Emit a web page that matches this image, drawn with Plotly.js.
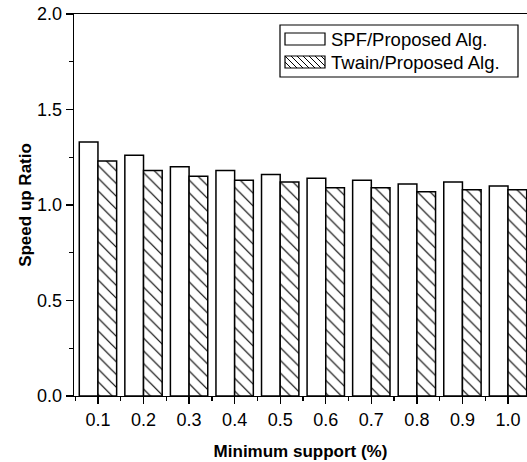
<!DOCTYPE html>
<html>
<head>
<meta charset="utf-8">
<script src="https://cdn.plot.ly/plotly-3.0.1.min.js"></script>
<style>html,body{margin:0;padding:0;background:#fff;}#chart{width:527px;height:462px;}</style>
</head>
<body>
<div id="chart"></div>
<script>
const supports = [0.1, 0.2, 0.3, 0.4, 0.5, 0.6, 0.7, 0.8, 0.9, 1.0];
const spfRatio = [1.33, 1.26, 1.20, 1.18, 1.16, 1.14, 1.13, 1.11, 1.12, 1.10];
const twainRatio = [1.23, 1.18, 1.15, 1.13, 1.12, 1.09, 1.09, 1.07, 1.08, 1.08];
const seriesNames = ["SPF/Proposed Alg.", "Twain/Proposed Alg."];

const W = 527, H = 462;
const M = {l: 74, r: 0, t: 14, b: 66};
const PW = W - M.l - M.r, PH = H - M.t - M.b;
const px = x => (x - M.l) / PW;
const py = y => (H - M.b - y) / PH;

const font = "Liberation Sans, Arial, sans-serif";

const traces = [
  {type: 'bar', x: supports, y: spfRatio, name: seriesNames[0],
   marker: {color: 'white', line: {color: 'black', width: 1.5}}},
  {type: 'bar', x: supports, y: twainRatio, name: seriesNames[1],
   marker: {color: 'white', line: {color: 'black', width: 1.5},
            pattern: {shape: '\\', size: 9, solidity: 0.13, fgcolor: 'black', bgcolor: 'white'}}}
];

// legend drawn as decoration
const shapes = [];
const LB = {x0: 280, x1: 518, y0: 25, y1: 77};
shapes.push({type: 'rect', xref: 'paper', yref: 'paper', x0: px(LB.x0), x1: px(LB.x1), y0: py(LB.y1), y1: py(LB.y0),
  line: {color: 'black', width: 1.2}, fillcolor: 'white', layer: 'above'});
const sw1 = {x0: 285, x1: 325, y0: 33, y1: 45};
const sw2 = {x0: 285, x1: 325, y0: 56, y1: 68};
[sw1, sw2].forEach(s => shapes.push({type: 'rect', xref: 'paper', yref: 'paper', x0: px(s.x0), x1: px(s.x1), y0: py(s.y1), y1: py(s.y0),
  line: {color: 'black', width: 1.2}, fillcolor: 'white', layer: 'above'}));
// hatch lines in swatch 2 ("\" direction)
const hh = sw2.y1 - sw2.y0;
for (let xs = sw2.x0 - hh; xs < sw2.x1; xs += 6) {
  let xa = xs, ya = sw2.y0, xb = xs + hh, yb = sw2.y1;
  if (xa < sw2.x0) { ya = sw2.y0 + (sw2.x0 - xa); xa = sw2.x0; }
  if (xb > sw2.x1) { yb = sw2.y1 - (xb - sw2.x1); xb = sw2.x1; }
  if (xb - xa < 0.5) continue;
  shapes.push({type: 'line', xref: 'paper', yref: 'paper', x0: px(xa), x1: px(xb), y0: py(ya), y1: py(yb),
    line: {color: 'black', width: 1}, layer: 'above'});
}

const annotations = [
  {xref: 'paper', yref: 'paper', x: px(329), y: py(39), xanchor: 'left', yanchor: 'middle', showarrow: false,
   text: seriesNames[0], font: {family: font, size: 18.5, color: 'black'}},
  {xref: 'paper', yref: 'paper', x: px(329), y: py(62), xanchor: 'left', yanchor: 'middle', showarrow: false,
   text: seriesNames[1], font: {family: font, size: 18.5, color: 'black'}}
];

const layout = {
  width: W, height: H,
  margin: M,
  paper_bgcolor: 'white', plot_bgcolor: 'white',
  showlegend: false,
  barmode: 'group', bargap: 0.18, bargroupgap: 0,
  font: {family: font, size: 18, color: 'black'},
  xaxis: {
    range: [0.0474, 1.0417],
    tickmode: 'linear', tick0: 0.1, dtick: 0.1, tickformat: '.1f',
    ticks: 'outside', ticklen: 7, tickwidth: 1.3, tickcolor: 'black',
    minor: {dtick: 0.05, tick0: 0.05, ticks: 'outside', ticklen: 4, tickwidth: 1.3, tickcolor: 'black'},
    showline: true, linecolor: 'black', linewidth: 1.3, mirror: true,
    showgrid: false, zeroline: false,
    tickfont: {family: font, size: 18, color: 'black'},
    title: {text: '<b>Minimum support (%)</b>', font: {family: font, size: 17, color: 'black'}, standoff: 16}
  },
  yaxis: {
    range: [0, 2.0],
    tickmode: 'linear', tick0: 0, dtick: 0.5, tickformat: '.1f',
    ticks: 'outside', ticklen: 7, tickwidth: 1.3, tickcolor: 'black',
    minor: {dtick: 0.25, ticks: 'outside', ticklen: 4, tickwidth: 1.3, tickcolor: 'black'},
    showline: true, linecolor: 'black', linewidth: 1.3,
    showgrid: false, zeroline: false,
    tickfont: {family: font, size: 18, color: 'black'},
    title: {text: '<b>Speed up Ratio</b>', font: {family: font, size: 17, color: 'black'}, standoff: 1}
  },
  shapes: shapes,
  annotations: annotations
};

Plotly.newPlot('chart', traces, layout, {displayModeBar: false, staticPlot: true});
</script>
</body>
</html>
